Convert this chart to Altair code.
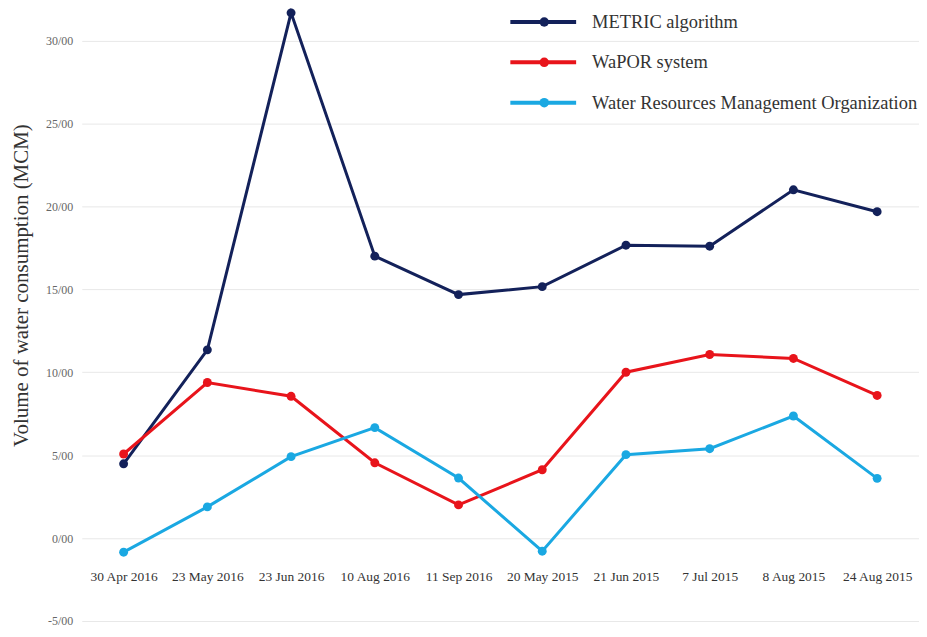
import altair as alt
import pandas as pd

dates = ["30 Apr 2016", "23 May 2016", "23 Jun 2016", "10 Aug 2016", "11 Sep 2016",
         "20 May 2015", "21 Jun 2015", "7 Jul 2015", "8 Aug 2015", "24 Aug 2015"]
series = ["METRIC algorithm", "WaPOR system", "Water Resources Management Organization"]
metric = [4.48, 11.35, 31.67, 17.0, 14.68, 15.16, 17.66, 17.6, 21.0, 19.68]
wapor = [5.07, 9.38, 8.55, 4.54, 2.0, 4.12, 10.0, 11.07, 10.83, 8.6]
wrmo = [-0.85, 1.88, 4.91, 6.66, 3.62, -0.79, 5.03, 5.39, 7.36, 3.6]
colors = ["#13215a", "#e8141b", "#1aa8e2"]
y_ticks = [-5, 0, 5, 10, 15, 20, 25, 30]

rows = []
for name, vals in zip(series, [metric, wapor, wrmo]):
    for d, v in zip(dates, vals):
        rows.append({"date": d, "series": name, "value": v})
df = pd.DataFrame(rows)
leg_df = pd.DataFrame({"series": series})

FONT = "Liberation Serif"

color = alt.Color("series:N", scale=alt.Scale(domain=series, range=colors), legend=None)

x = alt.X("date:N", sort=dates, scale=alt.Scale(type="point", padding=0.5),
          axis=alt.Axis(title=None, domain=False, ticks=False, grid=False, labelAngle=0,
                        labelFont=FONT, labelFontSize=13.5, labelColor="#333333",
                        labelBaseline="middle", labelPadding=0, offset=-45))
y = alt.Y("value:Q", scale=alt.Scale(domain=[-5, 31.9], nice=False, zero=False),
          axis=alt.Axis(values=y_ticks, title="Volume of water consumption (MCM)",
                        labelExpr="(datum.value < 0 ? '-' : '') + abs(datum.value) + '/00'",
                        domain=False, ticks=False, grid=True, gridColor="#e8e8e8",
                        labelFont=FONT, labelFontSize=12, labelColor="#666666", labelPadding=9,
                        titleFont=FONT, titleFontSize=21, titleFontWeight="normal",
                        titleColor="#333333", titleX=-60, titleY=277,
                        titleBaseline="middle", titleAlign="center"))

lines = alt.Chart(df).mark_line(strokeWidth=3).encode(x=x, y=y, color=color, detail="series:N")
points = alt.Chart(df).mark_point(filled=True, size=80, opacity=1).encode(x=x, y=y, color=color)

leg_y = alt.Y("series:N", scale=alt.Scale(type="point", domain=series, range=[13, 94], padding=0),
              axis=None)
leg_rule = alt.Chart(leg_df).mark_rule(strokeWidth=4).encode(
    x=alt.value(430), x2=alt.value(496), y=leg_y, color=color)
leg_pt = alt.Chart(leg_df).mark_point(filled=True, size=90, opacity=1).encode(
    x=alt.value(464), y=leg_y, color=color)
leg_txt = alt.Chart(leg_df).mark_text(align="left", baseline="middle", font=FONT,
                                      fontSize=18.5, color="#333333").encode(
    x=alt.value(512), y=leg_y, text="series:N")

main = alt.layer(lines, points)
legend = alt.layer(leg_rule, leg_pt, leg_txt)

chart = alt.layer(main, legend).resolve_scale(y="independent").properties(
    width=840, height=614,
    autosize=alt.AutoSizeParams(type="none"),
    padding={"left": 74, "top": 0, "right": 0, "bottom": 7},
).configure_view(stroke=None)

chart.save("out.html", embed_options={"renderer": "svg", "actions": False})
